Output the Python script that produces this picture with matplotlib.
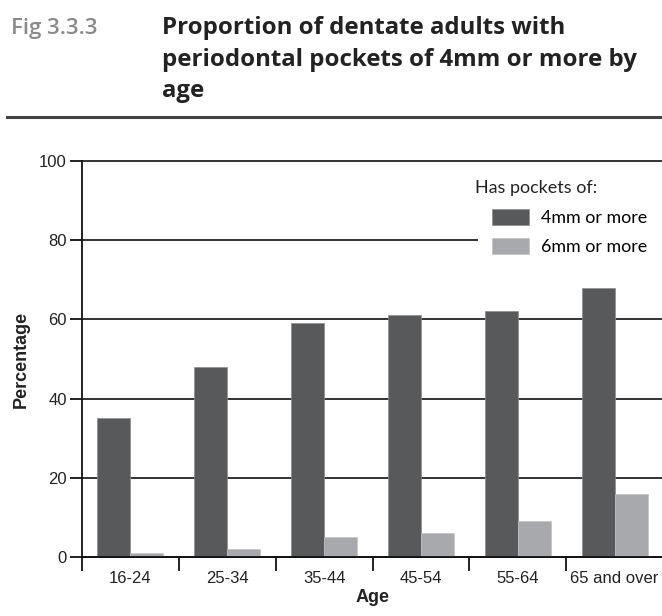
import numpy as np
import matplotlib
matplotlib.use("Agg")
import matplotlib.pyplot as plt
from matplotlib.lines import Line2D
from matplotlib.patches import Patch, Rectangle

# Data
age_groups = ["16-24", "25-34", "35-44", "45-54", "55-64", "65 and over"]
pockets_4mm = [35, 48, 59, 61, 62, 68]
pockets_6mm = [1, 2, 5, 6, 9, 16]
series_labels = ["4mm or more", "6mm or more"]
y_ticks = [0, 20, 40, 60, 80, 100]

DARK = "#58595b"
LIGHT = "#a7a9ac"

W, H = 662, 616
fig = plt.figure(figsize=(W / 100, H / 100), dpi=100)
fig.patch.set_facecolor("white")

def fx(px):
    return px / W

def fy(py):
    return 1 - py / H

# Header
head_font = "Open Sans"
fig.text(fx(11), fy(34), "Fig 3.3.3", fontsize=16, color="#8a8a8a",
         family=head_font, weight="semibold", va="baseline", ha="left")
for txt, base in [("Proportion of dentate adults with", 34),
                  ("periodontal pockets of 4mm or more by", 66),
                  ("age", 97)]:
    fig.text(fx(162), fy(base), txt, fontsize=17.3, color="#222222",
             family=head_font, weight="bold", va="baseline", ha="left")
fig.add_artist(Line2D([fx(7), fx(662)], [fy(117), fy(117)],
                      color="#444444", lw=2.2, transform=fig.transFigure))

# Axes
ax = fig.add_axes([fx(82), fy(557), fx(663) - fx(82), (557 - 161) / H])
x = np.arange(len(age_groups))
bw = 0.34
ax.bar(x - bw / 2, pockets_4mm, width=bw, color=DARK, edgecolor="#8c8c8c",
       linewidth=0.5, zorder=3, label=series_labels[0])
ax.bar(x + bw / 2, pockets_6mm, width=bw, color=LIGHT, edgecolor="#c4c4c4",
       linewidth=0.5, zorder=3, label=series_labels[1])

ax.set_xlim(-0.5, len(age_groups) - 0.5)
ax.set_ylim(0, 100)
ax.set_yticks(y_ticks)
ax.set_xticks(x)
ax.set_xticklabels(age_groups)
ax.set_xticks(np.arange(-0.5, len(age_groups) - 1), minor=True)

tick_font = "Liberation Sans"
for lbl in ax.get_xticklabels() + ax.get_yticklabels():
    lbl.set_family(tick_font)
    lbl.set_fontsize(12)
    lbl.set_color("#222222")

ax.tick_params(axis="x", which="major", length=0, pad=10)
ax.tick_params(axis="x", which="minor", length=10, width=1.3, direction="out",
               color="#111111")
ax.tick_params(axis="y", length=9, width=1.3, direction="out", color="#111111",
               pad=2)

for side in ["top", "right"]:
    ax.spines[side].set_visible(False)
for side in ["left", "bottom"]:
    ax.spines[side].set_linewidth(1.3)
    ax.spines[side].set_color("#111111")
    ax.spines[side].set_zorder(4)

ax.yaxis.grid(True, color="#111111", linewidth=1.2, zorder=0)
ax.set_axisbelow(True)
for gl in ax.get_ygridlines():
    gl.set_clip_on(False)

ax.set_ylabel("Percentage", family=tick_font, fontsize=13, weight="bold",
              color="#222222", labelpad=7)
ax.set_xlabel("Age", family=tick_font, fontsize=13, weight="bold",
              color="#222222", labelpad=2)

# Legend on a white panel that masks the gridline behind it
ax.add_patch(Rectangle((fx(478), fy(290)), fx(662) - fx(478), (290 - 170) / H,
                       transform=fig.transFigure, facecolor="white",
                       edgecolor="none", zorder=2, clip_on=False))
fs_leg = 12.9
px_per_em = fs_leg * 100 / 72
handles = [Patch(facecolor=DARK, edgecolor="#8c8c8c", linewidth=0.5),
           Patch(facecolor=LIGHT, edgecolor="#c4c4c4", linewidth=0.5)]
leg = ax.legend(handles, series_labels, loc="upper left",
                bbox_to_anchor=(fx(492), fy(209)), bbox_transform=fig.transFigure,
                prop={"family": "Lato", "size": fs_leg},
                frameon=False, borderpad=0, borderaxespad=0,
                handlelength=37 / px_per_em, handleheight=18 / px_per_em,
                handletextpad=12 / px_per_em, labelspacing=12 / px_per_em)
leg.set_zorder(5)
fig.text(fx(475), fy(193), "Has pockets of:", family="Lato", fontsize=fs_leg,
         color="#222222", va="baseline", ha="left", zorder=6)

fig.savefig("out.png", dpi=100)
